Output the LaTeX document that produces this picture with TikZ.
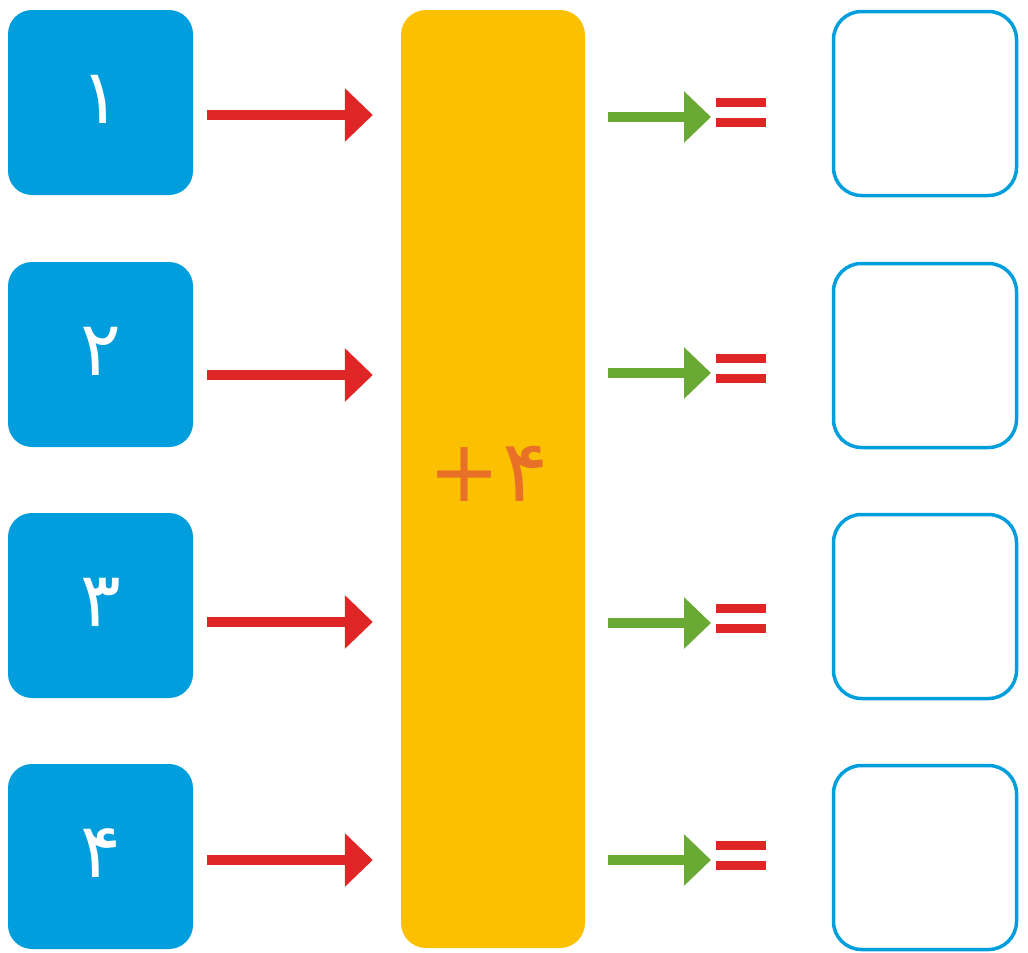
\documentclass[tikz,border=0pt]{standalone}
\usepackage{fontspec}
\newfontfamily\fa[Script=Arabic]{DejaVu Sans}
\newfontfamily\dv{DejaVu Sans}
\usetikzlibrary{arrows.meta,calc}
\definecolor{boxblue}{RGB}{0,158,220}
\definecolor{barY}{RGB}{251,192,0}
\definecolor{redA}{RGB}{222,38,38}
\definecolor{greenA}{RGB}{106,170,52}
\definecolor{orangeT}{RGB}{232,112,40}
\begin{document}
\begin{tikzpicture}[x=1pt,y=-1pt,
 numbox/.style={fill=boxblue, rounded corners=24pt, minimum width=185pt, minimum height=185pt, inner sep=0pt, text=white, font=\fa\fontsize{76}{76}\selectfont},
 ansbox/.style={draw=boxblue, line width=3.5pt, rounded corners=28pt, minimum width=183pt, minimum height=184pt, inner sep=0pt},
 redarrow/.style={draw=redA, line width=10pt, -{Triangle[length=28pt,width=52pt]}},
 greenarrow/.style={draw=greenA, line width=10pt, -{Triangle[length=27pt,width=50pt]}},
 eqbar/.style={fill=redA}]
\useasboundingbox (0,0) rectangle (1028,953);
\node[fill=barY, rounded corners=25pt, minimum width=184pt, minimum height=938pt, inner sep=0pt] (bar) at (493,479) {};
\node[text=orangeT, inner sep=0pt] (op) at (489,474) {{\dv\fontsize{86}{86}\selectfont +}\kern2pt{\fa\fontsize{86}{86}\selectfont ۴}};
\foreach \i/\d/\by/\ry/\gy in {1/۱/102.5/115/117, 2/۲/354.5/375/373, 3/۳/605.5/622/623, 4/۴/856.5/860/860}{
  \node[numbox] (n\i) at (100.5,\by) {\raisebox{6pt}{\d}};
  \node[ansbox] (a\i) at (925,\by+1) {};
  \draw[redarrow] ($(n\i.east)+(14,\ry-\by)$) -- ($(bar.west |- n\i.east)+(-28,\ry-\by)$);
  \coordinate (e\i) at (711,\gy);
  \draw[greenarrow] ($(bar.east |- e\i)+(23,0)$) -- (e\i);
  \fill[eqbar] ($(e\i)+(5,-19)$) rectangle +(50,9);
  \fill[eqbar] ($(e\i)+(5,1)$) rectangle +(50,9);
}
\end{tikzpicture}
\end{document}
